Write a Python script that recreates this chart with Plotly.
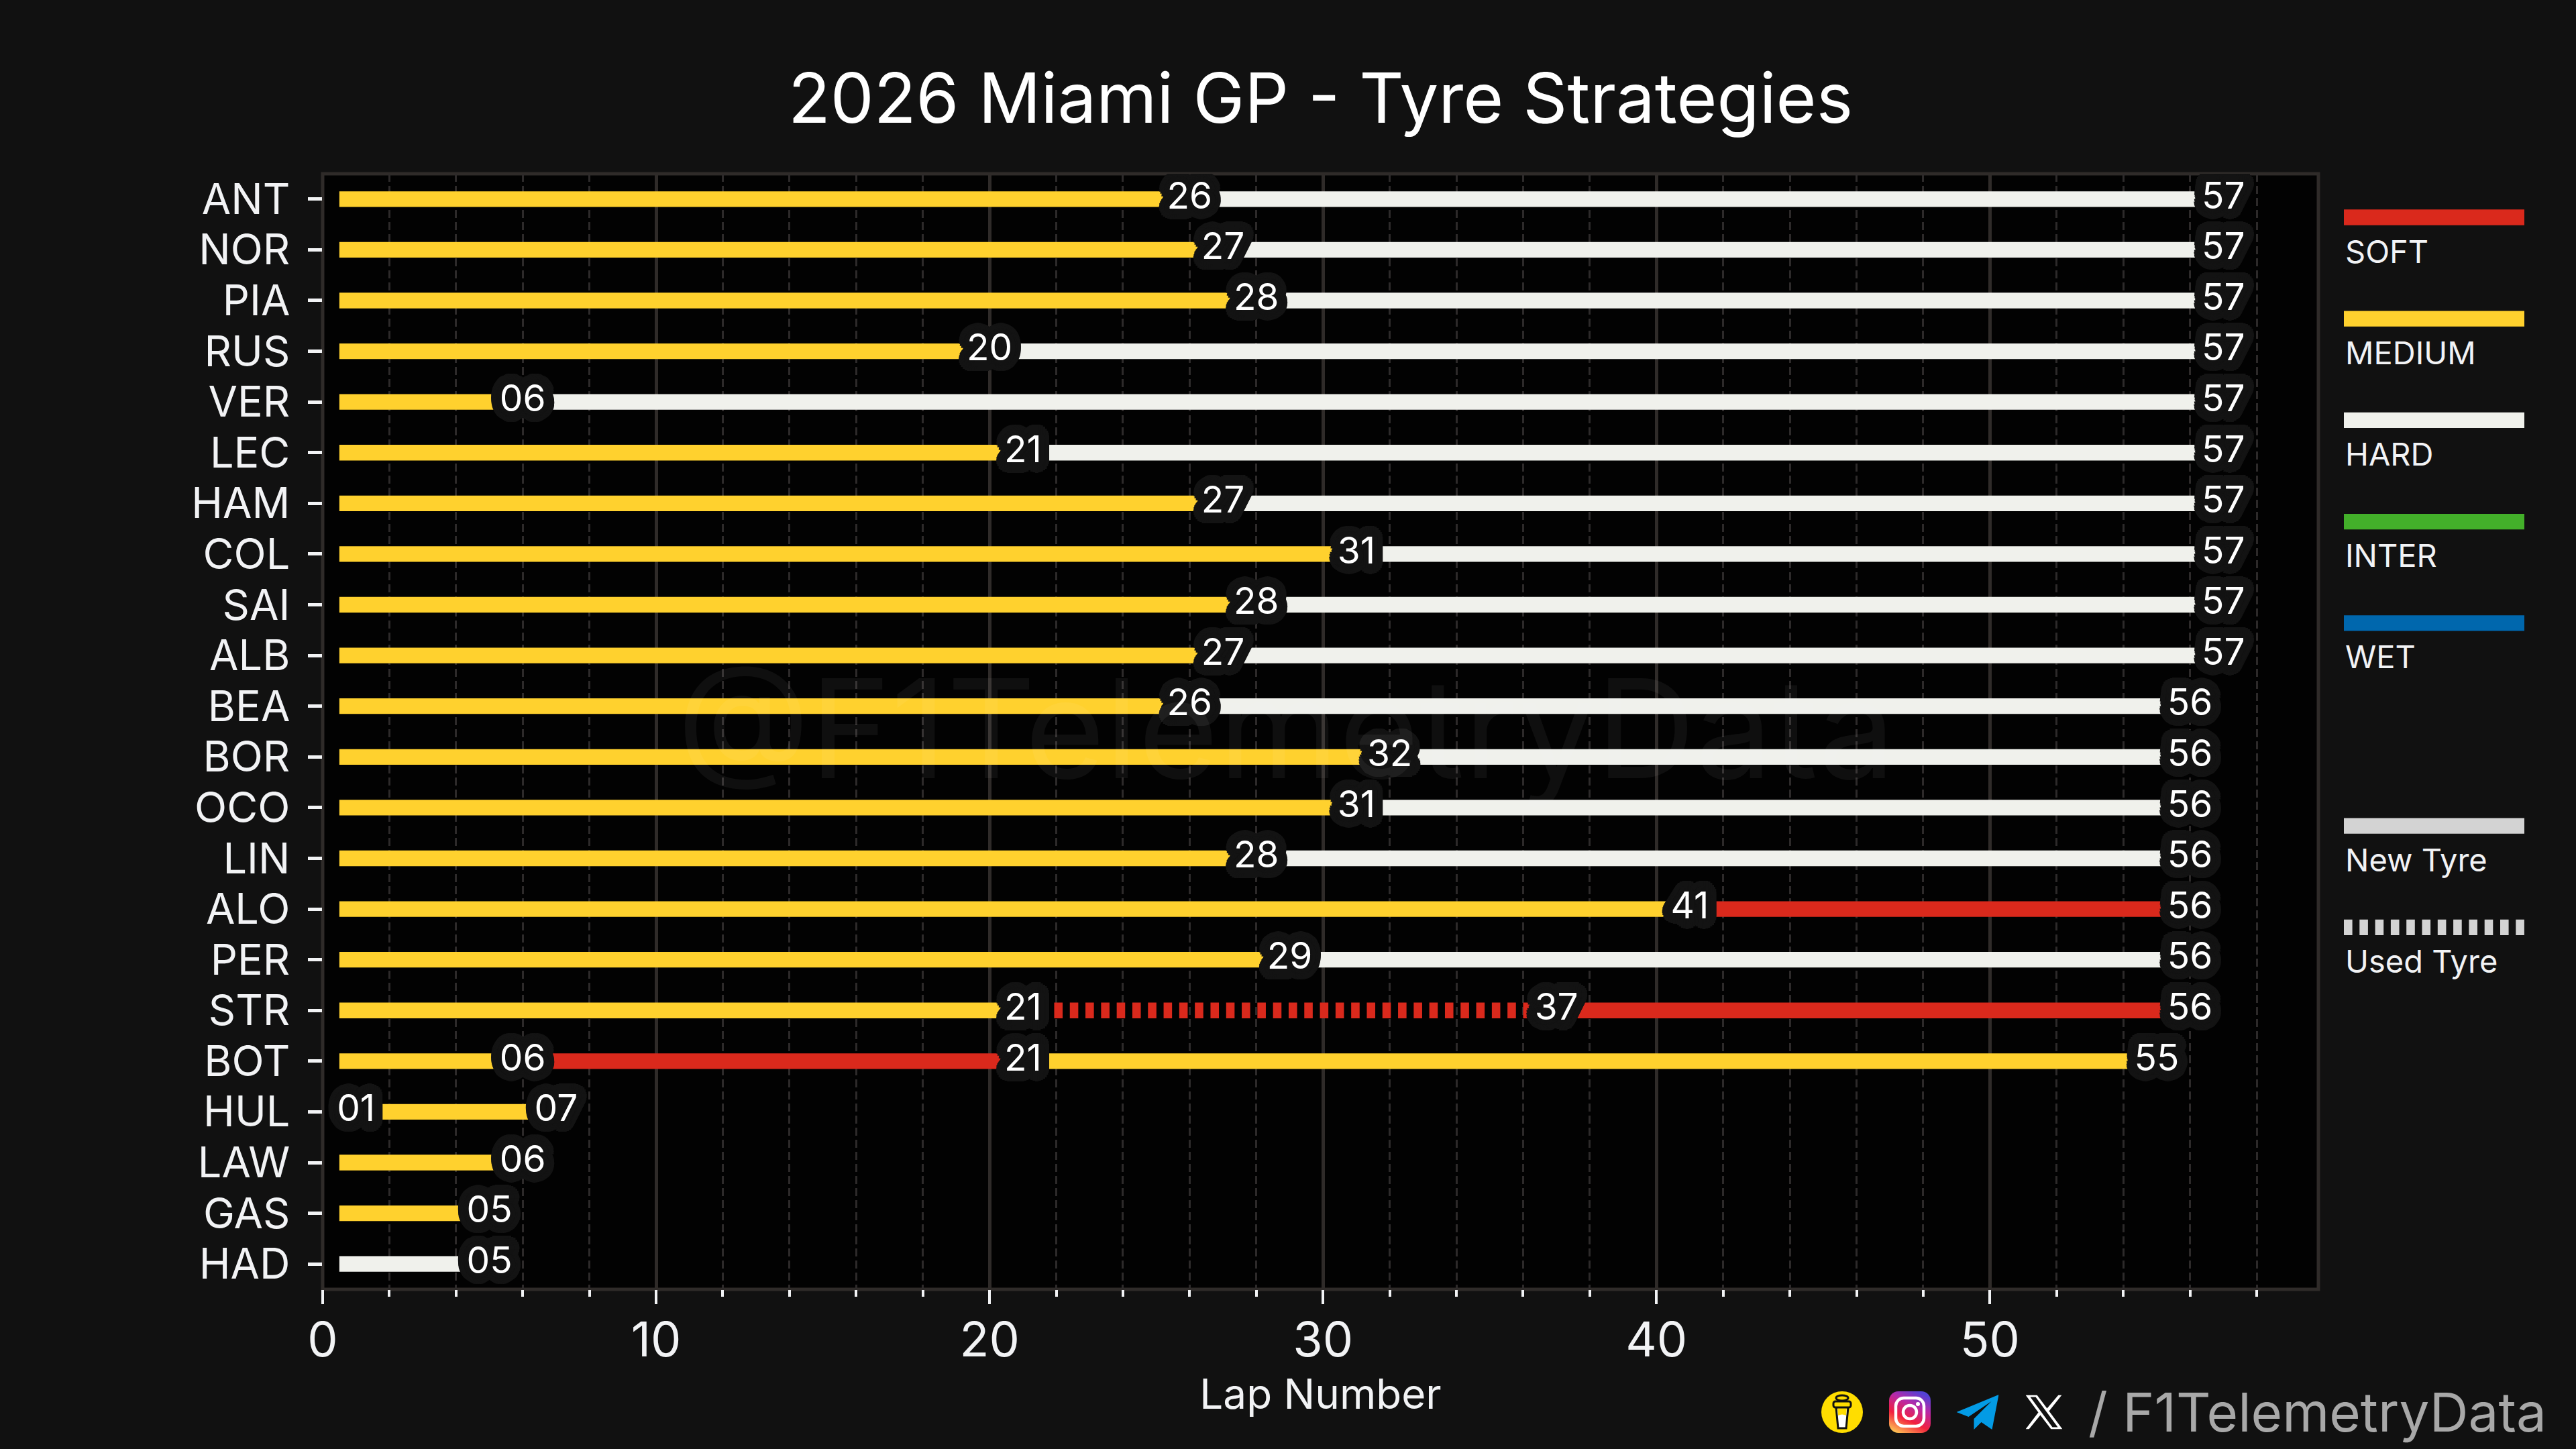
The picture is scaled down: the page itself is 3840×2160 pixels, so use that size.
""" Tyre strategy chart: 2026 Miami GP """
import base64
import math
import plotly.graph_objects as go

# Race data
drivers = ['ANT', 'NOR', 'PIA', 'RUS', 'VER', 'LEC', 'HAM', 'COL', 'SAI', 'ALB', 'BEA',
           'BOR', 'OCO', 'LIN', 'ALO', 'PER', 'STR', 'BOT', 'HUL', 'LAW', 'GAS', 'HAD']
stint_ends = [[26, 57], [27, 57], [28, 57], [20, 57], [6, 57], [21, 57], [27, 57], [31, 57], [28, 57], [27, 57],
              [26, 56], [32, 56], [31, 56], [28, 56], [41, 56], [29, 56], [21, 37, 56], [6, 21, 55], [1, 7],
              [6], [5], [5]]
stint_compounds = [['MEDIUM', 'HARD'], ['MEDIUM', 'HARD'], ['MEDIUM', 'HARD'], ['MEDIUM', 'HARD'],
                   ['MEDIUM', 'HARD'], ['MEDIUM', 'HARD'], ['MEDIUM', 'HARD'], ['MEDIUM', 'HARD'],
                   ['MEDIUM', 'HARD'], ['MEDIUM', 'HARD'], ['MEDIUM', 'HARD'], ['MEDIUM', 'HARD'],
                   ['MEDIUM', 'HARD'], ['MEDIUM', 'HARD'], ['MEDIUM', 'SOFT'], ['MEDIUM', 'HARD'],
                   ['MEDIUM', 'SOFT', 'SOFT'], ['MEDIUM', 'SOFT', 'MEDIUM'], ['MEDIUM', 'MEDIUM'],
                   ['MEDIUM'], ['MEDIUM'], ['HARD']]
used_stints = [('STR', 1)]
first_lap = 0.5

compound_names = ['SOFT', 'MEDIUM', 'HARD', 'INTER', 'WET']
compound_colors = ['#da291c', '#ffd12e', '#f0f1ec', '#43b02a', '#0067ad']
tyre_names = ['New Tyre', 'Used Tyre']
legend_slots = [0, 1, 2, 3, 4, 6, 7]

# Style
FONT = 'Inter'
BG = '#111111'
SPINE = '#2f2b29'
TEXT = '#f2f3f5'
BAR_WIDTH = 23.3
USED_DASH = '12.6px,10.7px'
W, H = 3840, 2160
colors = dict(zip(compound_names, compound_colors))


def halo(radius, color):
    # Hard edged outline round the text, text-shadow has no spread so it is stacked
    parts = []
    for r in (radius / 2, radius):
        for i in range(28):
            a = 2 * math.pi * i / 28
            parts.append(f'{r * math.cos(a):.1f}px {r * math.sin(a):.1f}px 0 {color}')
    return ','.join(parts)


def svg_uri(svg):
    return 'data:image/svg+xml;base64,' + base64.b64encode(svg.encode()).decode()


cup_svg = ('<svg xmlns="http://www.w3.org/2000/svg" viewBox="0 0 62 62"><circle cx="31" cy="31" r="31" fill="#ffdd00"/>'
           '<path d="M22 24 L40 24 L37 55 L25 55 Z" fill="#fff" stroke="#111" stroke-width="3"/>'
           '<path d="M24 24 L38 24 L37 36 Q31 33 25 36 Z" fill="#ffdd00"/>'
           '<rect x="18" y="15" width="26" height="9" rx="3" fill="#ffdd00" stroke="#111" stroke-width="3"/>'
           '<ellipse cx="31" cy="10" rx="9" ry="4" fill="none" stroke="#111" stroke-width="3"/></svg>')
insta_svg = ('<svg xmlns="http://www.w3.org/2000/svg" viewBox="0 0 62 62"><defs><linearGradient id="g" x1="0.2" y1="1" '
             'x2="0.7" y2="0"><stop offset="0" stop-color="#fec053"/><stop offset="0.35" stop-color="#f2203e"/>'
             '<stop offset="0.7" stop-color="#b729a8"/><stop offset="1" stop-color="#5342d6"/></linearGradient></defs>'
             '<rect width="62" height="62" rx="14" fill="url(#g)"/>'
             '<rect x="10" y="10" width="42" height="42" rx="12" fill="none" stroke="#fff" stroke-width="4.5"/>'
             '<circle cx="31" cy="31" r="10" fill="none" stroke="#fff" stroke-width="4.5"/>'
             '<circle cx="43" cy="19" r="3" fill="#fff"/></svg>')
telegram_svg = ('<svg xmlns="http://www.w3.org/2000/svg" viewBox="0 0 63 52">'
                '<path d="M0 26 L63 0 L53 52 L37 41 L26 52 L26 36 L52 10 L18 33 Z" fill="#039be5"/></svg>')
x_svg = ('<svg xmlns="http://www.w3.org/2000/svg" viewBox="0 0 55 51"><path fill-rule="evenodd" fill="#fff" '
         'd="M0 0 L17 0 L32 20 L49 0 L54 0 L35 24 L55 51 L38 51 L22 30 L5 51 L0 51 L19 26 Z '
         'M7 3 L40 48 L48 48 L15 3 Z"/></svg>')

fig = go.Figure()

# Stints
for driver, ends, compounds in zip(drivers, stint_ends, stint_compounds):
    start = first_lap
    for s, (end, compound) in enumerate(zip(ends, compounds)):
        fig.add_scatter(x=[start, end], y=[driver, driver], mode='lines', hoverinfo='skip',
                        line=dict(color=colors[compound], width=BAR_WIDTH,
                                  dash=USED_DASH if (driver, s) in used_stints else 'solid'))
        start = end

# Lap labels sit on top of all the stints
label_x = [end for ends in stint_ends for end in ends]
label_y = [d for d, ends in zip(drivers, stint_ends) for _ in ends]
fig.add_scatter(x=label_x, y=label_y, mode='text', text=[f'{v:02d}' for v in label_x], hoverinfo='skip',
                textposition='middle center',
                textfont=dict(family=FONT, size=55, color='#ffffff', shadow=halo(16, '#131313')))

# Legend, on its own hidden axes
legend_names = compound_names + tyre_names
legend_colors = compound_colors + ['#d3d3d3', '#d3d3d3']
for name, color, slot in zip(legend_names, legend_colors, legend_slots):
    fig.add_scatter(x=[0, 1], y=[slot, slot], mode='lines', xaxis='x2', yaxis='y2', hoverinfo='skip',
                    line=dict(color=color, width=BAR_WIDTH, dash=USED_DASH if name == 'Used Tyre' else 'solid'))
    fig.add_annotation(x=0, y=slot, xref='x2', yref='y2', text=name, showarrow=False, xanchor='left',
                       yanchor='middle', yshift=-50, font=dict(family=FONT, size=47, color=TEXT))

# Watermark and footer
fig.add_annotation(x=1917 / W, y=1 - 1085 / H, xref='paper', yref='paper', text='@F1TelemetryData', showarrow=False,
                   xanchor='center', yanchor='middle', font=dict(family=FONT, size=205, color='rgba(255,255,255,0.055)'))
fig.add_annotation(x=3798 / W, y=1 - 2104 / H, xref='paper', yref='paper', text='/ F1TelemetryData', showarrow=False,
                   xanchor='right', yanchor='middle', font=dict(family=FONT, size=80, color='#a8a8a8'))

# Social icons
for svg, cx, w, h in [(cup_svg, 2746, 62, 62), (insta_svg, 2847, 62, 62), (telegram_svg, 2948, 63, 52),
                      (x_svg, 3047, 55, 51)]:
    fig.add_layout_image(source=svg_uri(svg), xref='paper', yref='paper', x=cx / W, y=1 - 2105 / H,
                         sizex=w / W, sizey=h / H, xanchor='center', yanchor='middle', sizing='stretch')

# Plot frame, the area fill is a shape so the legend axes stay transparent
fig.add_shape(type='rect', xref='x domain', yref='y domain', x0=0, x1=1, y0=0, y1=1, layer='below',
              fillcolor='#020202', line=dict(color=SPINE, width=5))

fig.update_layout(
    width=W, height=H, showlegend=False, paper_bgcolor=BG, plot_bgcolor='rgba(0,0,0,0)',
    margin=dict(l=0, r=0, t=0, b=0, autoexpand=False),
    title=dict(text='2026 Miami GP - Tyre Strategies', x=(481 + 3456) / 2 / W, xanchor='center',
               y=1 - 147 / H, yanchor='middle', font=dict(family=FONT, size=103, color='#ffffff')),
    xaxis=dict(domain=[481 / W, 3456 / W], range=[0, 59.85], dtick=10, tick0=0, ticks='outside', ticklen=21, tickwidth=4,
               tickcolor=TEXT, ticklabelstandoff=-8, tickfont=dict(family=FONT, size=72, color=TEXT),
               showgrid=True, gridcolor=SPINE, gridwidth=4.5, zeroline=False, showline=False, automargin=False,
               title=dict(text='Lap Number', standoff=18, font=dict(family=FONT, size=62, color=TEXT)),
               minor=dict(dtick=2, tick0=0, ticks='outside', ticklen=10, tickwidth=4, tickcolor=TEXT, showgrid=True,
                          gridcolor='#2d2a2a', gridwidth=2.5, griddash='12px,6px')),
    yaxis=dict(domain=[1 - 1922 / H, 1 - 259 / H], type='category', categoryorder='array', categoryarray=drivers,
               range=[21.5, -0.5], dtick=1, ticks='outside', ticklen=21, tickwidth=5, tickcolor=TEXT,
               ticklabelstandoff=14, tickfont=dict(family=FONT, size=63, color=TEXT), showgrid=False, zeroline=False,
               showline=False, automargin=False),
    xaxis2=dict(domain=[3494 / W, 3763 / W], range=[0, 1], visible=False, anchor='y2', automargin=False),
    yaxis2=dict(domain=[0, 1], range=[12.143, -2.143], visible=False, anchor='x2', automargin=False),
)

# Body margin would push the fixed size figure off the page
fig.write_html("out.html", config={'displayModeBar': False},
               post_script="document.body.style.margin='0';document.body.style.background='#111111';")
